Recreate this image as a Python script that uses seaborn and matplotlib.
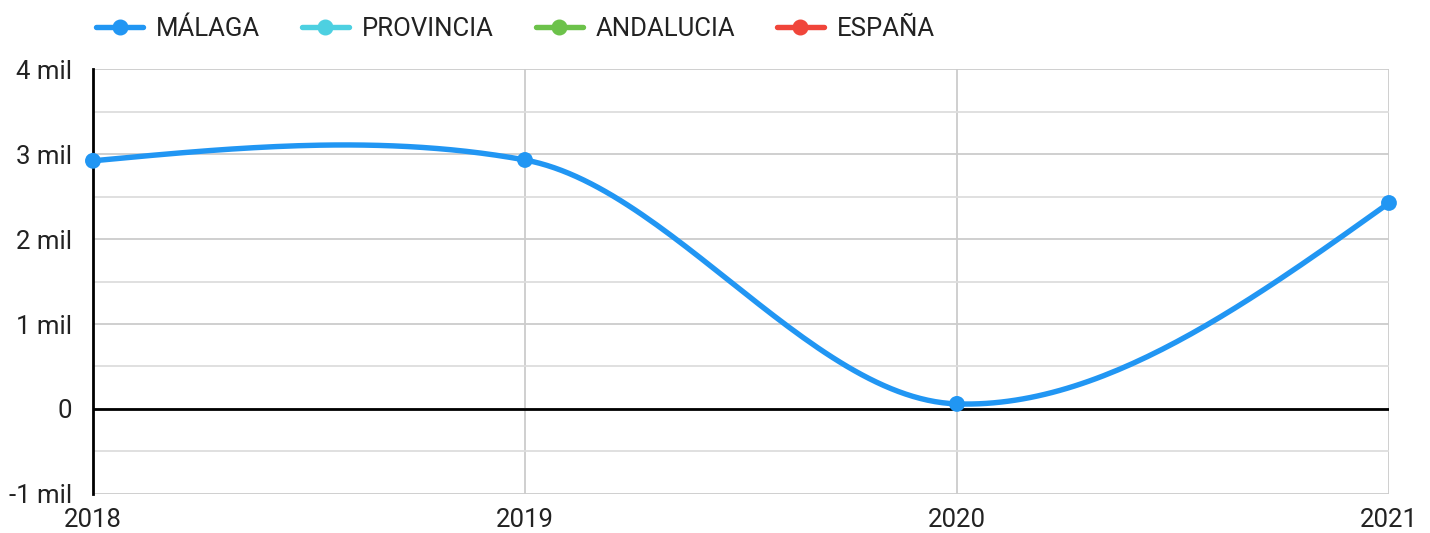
import numpy as np
import matplotlib.pyplot as plt
import seaborn as sns
from matplotlib.lines import Line2D
from matplotlib.ticker import MultipleLocator, FuncFormatter

# data
years = [2018, 2019, 2020, 2021]
malaga = [2920, 2930, 60, 2424]
series_names = ["MÁLAGA", "PROVINCIA", "ANDALUCIA", "ESPAÑA"]
series_colors = ["#2196F3", "#4DD0E1", "#6CC24A", "#F0453A"]
y_ticks = [-1000, 0, 1000, 2000, 3000, 4000]


def smooth_curve(xs, ys, tension=0.65, n=60):
    # cubic hermite through the points, like the "function" curve of the original
    xs = np.asarray(xs, float)
    ys = np.asarray(ys, float)
    m = np.zeros_like(ys)
    m[1:-1] = tension * (ys[2:] - ys[:-2]) / (xs[2:] - xs[:-2])
    m[0] = (3 * (ys[1] - ys[0]) / (xs[1] - xs[0]) - m[1]) / 2
    m[-1] = (3 * (ys[-1] - ys[-2]) / (xs[-1] - xs[-2]) - m[-2]) / 2
    out_x, out_y = [], []
    for i in range(len(xs) - 1):
        h = xs[i + 1] - xs[i]
        t = np.linspace(0, 1, n)
        h00 = 2 * t**3 - 3 * t**2 + 1
        h10 = t**3 - 2 * t**2 + t
        h01 = -2 * t**3 + 3 * t**2
        h11 = t**3 - t**2
        out_x.append(xs[i] + t * h)
        out_y.append(h00 * ys[i] + h10 * h * m[i] + h01 * ys[i + 1] + h11 * h * m[i + 1])
    return np.concatenate(out_x), np.concatenate(out_y)


sns.set_style("white")
plt.rcParams['font.family'] = ['Roboto', 'DejaVu Sans']

fig = plt.figure(figsize=(14.3, 5.33), dpi=100)
ax = fig.add_axes([0.065, 0.0732, 0.9063, 0.7973])

cx, cy = smooth_curve(years, malaga)
sns.lineplot(x=cx, y=cy, ax=ax, color=series_colors[0], linewidth=3.9, zorder=4, sort=False)
sns.scatterplot(x=years, y=malaga, ax=ax, color=series_colors[0], s=130, edgecolor="none",
                zorder=5, clip_on=False)

ax.set_xlim(years[0], years[-1])
ax.set_ylim(y_ticks[0], y_ticks[-1])
ax.set_xticks(years)
ax.set_yticks(y_ticks)
ax.yaxis.set_minor_locator(MultipleLocator(500))
ax.yaxis.set_major_formatter(FuncFormatter(lambda v, p: "0" if v == 0 else f"{int(v / 1000)} mil"))

ax.grid(True, which="major", axis="both", color="#cccccc", linewidth=1.3, zorder=0)
ax.grid(True, which="minor", axis="y", color="#dddddd", linewidth=1.3, zorder=0)
ax.axhline(0, color="black", linewidth=2, zorder=3)
for side in ["top", "right", "bottom"]:
    ax.spines[side].set_visible(False)
ax.spines["left"].set_color("black")
ax.spines["left"].set_linewidth(2)
ax.spines["left"].set_zorder(3)

ax.tick_params(axis="y", length=0, pad=15, labelsize=18.5, labelcolor="#222222")
ax.tick_params(axis="x", length=0, pad=10, labelsize=18.5, labelcolor="#222222")
ax.tick_params(which="minor", length=0)
ax.set_xlabel("")
ax.set_ylabel("")

handles = [Line2D([], [], color=c, linewidth=3.9, marker="o", markersize=10.5) for c in series_colors]
fig.legend(handles, series_names, loc="upper left", bbox_to_anchor=(0.051, 1.012), ncol=4,
           frameon=False, fontsize=18.5, handlelength=1.83, handletextpad=0.5,
           columnspacing=1.63, labelcolor="#222222")

fig.savefig("out.png", dpi=100)
